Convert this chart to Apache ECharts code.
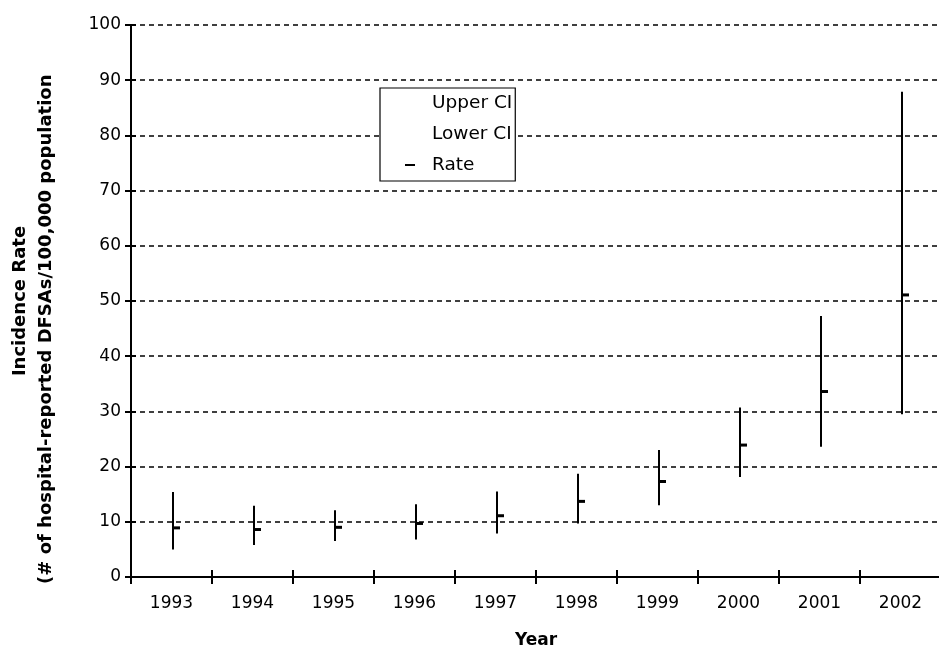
<!DOCTYPE html>
<html>
<head>
<meta charset="utf-8">
<script src="https://cdn.jsdelivr.net/npm/echarts@6/dist/echarts.min.js"></script>
<style>
html,body{margin:0;padding:0;background:#fff;}
#chart{width:939px;height:653px;}
</style>
</head>
<body>
<div id="chart"></div>
<script>
const years = ['1993','1994','1995','1996','1997','1998','1999','2000','2001','2002'];
const upperCI = [15.4, 12.9, 12.1, 13.2, 15.5, 18.7, 23.0, 30.7, 47.3, 87.9];
const lowerCI = [5.0, 5.8, 6.5, 6.8, 7.9, 9.7, 13.0, 18.1, 23.6, 29.5];
const rate = [8.9, 8.6, 9.0, 9.7, 11.1, 13.7, 17.3, 23.9, 33.6, 51.1];
const yTicks = [0, 10, 20, 30, 40, 50, 60, 70, 80, 90, 100];

const FONT = '"DejaVu Sans", "Noto Sans", sans-serif';
const chart = echarts.init(document.getElementById('chart'), null, {renderer: 'canvas'});

const hlcData = years.map((y, i) => [i, lowerCI[i], upperCI[i], rate[i]]);
const pad = '\u00a0'.repeat(9);

const option = {
  animation: false,
  backgroundColor: '#fff',
  textStyle: {fontFamily: FONT, color: '#000'},
  grid: {left: 131, right: -2, top: 25, bottom: 76, containLabel: false, outerBoundsMode: 'none'},
  legend: {
    orient: 'vertical',
    left: 380, top: 88,
    padding: [4, 3, 5, 25],
    backgroundColor: '#fff',
    borderColor: '#000', borderWidth: 1.2,
    itemGap: 9,
    itemWidth: 10, itemHeight: 2,
    textStyle: {fontFamily: FONT, fontSize: 18.5, color: '#000', lineHeight: 22, padding: [0, 0, 0, 12]},
    data: [
      {name: 'Upper CI', icon: 'rect', itemStyle: {color: 'rgba(0,0,0,0)', borderWidth: 0}},
      {name: 'Lower CI', icon: 'rect', itemStyle: {color: 'rgba(0,0,0,0)', borderWidth: 0}},
      {name: 'Rate', icon: 'rect', itemStyle: {color: '#000', borderWidth: 0}}
    ],
    selectedMode: false,
    z: 10
  },
  xAxis: [
    {
      type: 'category', data: years, boundaryGap: true,
      name: 'Year', nameLocation: 'middle', nameGap: 55,
      nameTextStyle: {fontFamily: FONT, fontSize: 17, fontWeight: 'bold', color: '#000'},
      axisLine: {lineStyle: {color: '#000', width: 2}},
      axisTick: {show: true, length: 7, lineStyle: {color: '#000', width: 2}},
      axisLabel: {fontFamily: FONT, fontSize: 17, color: '#000', margin: 18},
      splitLine: {show: false}
    },
    {
      type: 'category', data: years, boundaryGap: true, position: 'bottom',
      axisLine: {show: false},
      axisTick: {show: true, inside: true, length: 7, lineStyle: {color: '#000', width: 2}},
      axisLabel: {show: false},
      splitLine: {show: false}
    }
  ],
  yAxis: [
    {
      type: 'value', min: 0, max: 100, interval: 10,
      name: 'Incidence Rate\n(# of hospital-reported DFSAs/100,000 population' + pad,
      nameLocation: 'middle', nameGap: 72, nameRotate: 90,
      nameTextStyle: {fontFamily: FONT, fontSize: 18, fontWeight: 'bold', color: '#000', lineHeight: 26},
      axisLine: {show: true, lineStyle: {color: '#000', width: 2}},
      axisTick: {show: true, length: 6, lineStyle: {color: '#000', width: 2}},
      axisLabel: {fontFamily: FONT, fontSize: 17, color: '#000', margin: 10,
        formatter: v => yTicks.includes(v) ? String(v) : ''},
      splitLine: {show: true, lineStyle: {color: '#000', width: 1.5, type: [5, 4]}}
    },
    {
      type: 'value', min: 0, max: 100, interval: 10, position: 'left',
      axisLine: {show: false},
      axisTick: {show: true, inside: true, length: 5, lineStyle: {color: '#000', width: 2}},
      axisLabel: {show: false},
      splitLine: {show: false}
    }
  ],
  series: [
    {
      name: 'Upper CI', type: 'line', data: upperCI,
      symbol: 'none', lineStyle: {width: 0, opacity: 0}, itemStyle: {color: 'rgba(0,0,0,0)'},
      silent: true
    },
    {
      name: 'Lower CI', type: 'line', data: lowerCI,
      symbol: 'none', lineStyle: {width: 0, opacity: 0}, itemStyle: {color: 'rgba(0,0,0,0)'},
      silent: true
    },
    {
      name: 'Rate', type: 'custom',
      itemStyle: {color: '#000'},
      encode: {x: 0, y: [1, 2, 3]},
      data: hlcData,
      renderItem: function (params, api) {
        const i = api.value(0);
        const lo = api.coord([i, api.value(1)]);
        const hi = api.coord([i, api.value(2)]);
        const r = api.coord([i, api.value(3)]);
        const x = Math.round(lo[0]) + 1;
        return {
          type: 'group',
          children: [
            {type: 'line', shape: {x1: x, y1: hi[1], x2: x, y2: lo[1]},
             style: {stroke: '#000', lineWidth: 2}},
            {type: 'rect', shape: {x: x, y: r[1] - 1.5, width: 7, height: 3},
             style: {fill: '#000'}}
          ]
        };
      },
      z: 5
    }
  ]
};
chart.setOption(option);
</script>
</body>
</html>
